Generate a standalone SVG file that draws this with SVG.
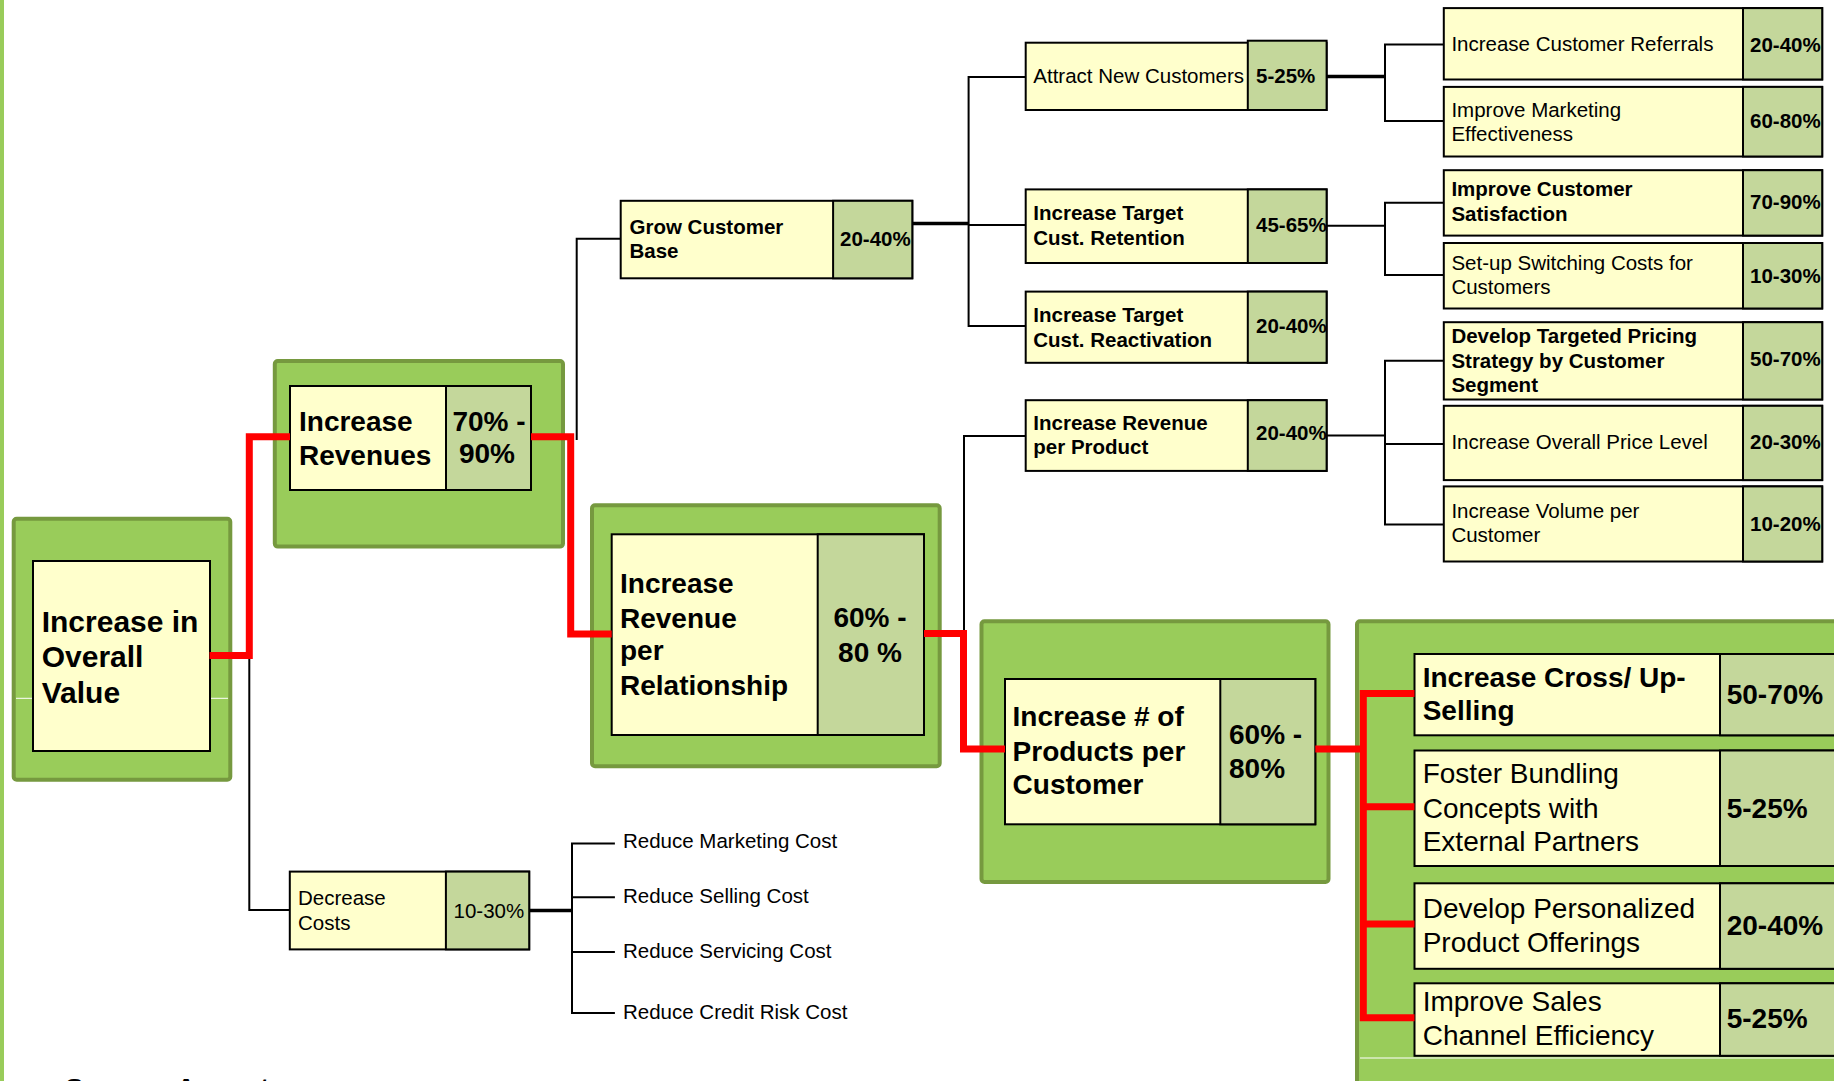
<svg xmlns="http://www.w3.org/2000/svg" width="1834" height="1081" viewBox="0 0 1834 1081">
<style>
.og{fill:#99CC5A;stroke:#76993F;stroke-width:4}
.bx{fill:#FFFFCC;stroke:#000;stroke-width:2}
.pc{fill:#C4D79B;stroke:#000;stroke-width:2}
.red{fill:none;stroke:#FF0000;stroke-width:7}
.ln{fill:none;stroke:#000;stroke-width:2}
.tk{fill:none;stroke:#000;stroke-width:3.5}
.wl{stroke:#FFFFFF;stroke-width:1}
text{font-family:"Liberation Sans",Arial,sans-serif;fill:#000}
.b28{font-size:28px;font-weight:bold}
.r28{font-size:28px}
.b30{font-size:30px;font-weight:bold}
.b20{font-size:20.5px;font-weight:bold}
.r20{font-size:20.5px}
.mid{text-anchor:middle}
</style>
<rect x="0" y="0" width="1834" height="1081" fill="#FFFFFF"/>
<rect x="0" y="0" width="4" height="1081" fill="#99CC5A"/>

<g id="increase-overall-value">
<rect class="og" x="13.7" y="518.7" width="216.6" height="261" rx="3"/>
<line class="wl" x1="16" y1="698.3" x2="33" y2="698.3"/>
<line class="wl" x1="210" y1="698.3" x2="228" y2="698.3"/>
<rect class="bx" x="33" y="561" width="177" height="190"/>
<text class="b30" x="41.7" y="631.7">Increase in</text>
<text class="b30" x="41.7" y="666.7">Overall</text>
<text class="b30" x="41.7" y="703.3">Value</text>
</g>

<g id="increase-revenues">
<rect class="og" x="274.8" y="361" width="288.2" height="185.6" rx="3"/>
<rect class="bx" x="290" y="386" width="241" height="104"/>
<rect class="pc" x="446" y="386" width="85" height="104"/>
<text class="b28" x="299" y="430.5">Increase</text>
<text class="b28" x="299" y="465">Revenues</text>
<text class="b28 mid" x="489" y="431">70% -</text>
<text class="b28 mid" x="487" y="463">90%</text>
</g>

<g id="increase-revenue-per-relationship">
<rect class="og" x="592" y="505.3" width="347.7" height="261" rx="3"/>
<rect class="bx" x="611.7" y="534.3" width="312.3" height="200.7"/>
<rect class="pc" x="817.7" y="534.3" width="106.3" height="200.7"/>
<text class="b28" x="620" y="593.3">Increase</text>
<text class="b28" x="620" y="628.3">Revenue</text>
<text class="b28" x="620" y="660">per</text>
<text class="b28" x="620" y="695">Relationship</text>
<text class="b28 mid" x="870" y="627.3">60% -</text>
<text class="b28 mid" x="870" y="662.3">80 %</text>
</g>

<g id="increase-products-per-customer">
<rect class="og" x="981.5" y="621.3" width="347" height="260.7" rx="3"/>
<rect class="bx" x="1005" y="679" width="310.3" height="145.3"/>
<rect class="pc" x="1220.3" y="679" width="95" height="145.3"/>
<text class="b28" x="1012.6" y="726.3">Increase # of</text>
<text class="b28" x="1012.6" y="760.8">Products per</text>
<text class="b28" x="1012.6" y="794.3">Customer</text>
<text class="b28" x="1229" y="743.5">60% -</text>
<text class="b28" x="1229" y="778">80%</text>
</g>

<g id="products-group">
<rect class="og" x="1357" y="621.3" width="520" height="500" rx="3"/>
<line class="wl" x1="1360" y1="1058" x2="1834" y2="1058"/>
</g>

<g id="cross-up-selling">
<rect class="bx" x="1414.5" y="654" width="440" height="81.3"/>
<rect class="pc" x="1720" y="654" width="134.5" height="81.3"/>
<text class="b28" x="1422.7" y="687.3">Increase Cross/ Up-</text>
<text class="b28" x="1422.7" y="720">Selling</text>
<text class="b28" x="1726.7" y="704">50-70%</text>
</g>

<g id="foster-bundling">
<rect class="bx" x="1414.5" y="750.5" width="440" height="115.5"/>
<rect class="pc" x="1720" y="750.5" width="134.5" height="115.5"/>
<text class="r28" x="1422.7" y="783.2">Foster Bundling</text>
<text class="r28" x="1422.7" y="817.7">Concepts with</text>
<text class="r28" x="1422.7" y="850.5">External Partners</text>
<text class="b28" x="1726.7" y="817.7">5-25%</text>
</g>

<g id="personalized-offerings">
<rect class="bx" x="1414.5" y="883.3" width="440" height="85.5"/>
<rect class="pc" x="1720" y="883.3" width="134.5" height="85.5"/>
<text class="r28" x="1422.7" y="917.8">Develop Personalized</text>
<text class="r28" x="1422.7" y="952.3">Product Offerings</text>
<text class="b28" x="1726.7" y="935">20-40%</text>
</g>

<g id="sales-channel">
<rect class="bx" x="1414.5" y="983.3" width="440" height="72.5"/>
<rect class="pc" x="1720" y="983.3" width="134.5" height="72.5"/>
<text class="r28" x="1422.7" y="1011">Improve Sales</text>
<text class="r28" x="1422.7" y="1045.4">Channel Efficiency</text>
<text class="b28" x="1726.7" y="1028">5-25%</text>
</g>

<g id="grow-customer-base">
<rect class="bx" x="620.7" y="200.8" width="291.6" height="77.5"/>
<rect class="pc" x="833.1" y="200.8" width="79.2" height="77.5"/>
<text class="b20" x="629.5" y="234">Grow Customer</text>
<text class="b20" x="629.5" y="258">Base</text>
<text class="b20" x="840" y="246">20-40%</text>
</g>

<g id="decrease-costs">
<rect class="bx" x="289.8" y="871.6" width="239.4" height="77.8"/>
<rect class="pc" x="445.9" y="871.6" width="83.3" height="77.8"/>
<text class="r20" x="298" y="904.6">Decrease</text>
<text class="r20" x="298" y="929.8">Costs</text>
<text class="r20" x="453.5" y="918">10-30%</text>
</g>

<g id="reduce-costs">
<text class="r20" x="623" y="848">Reduce Marketing Cost</text>
<text class="r20" x="623" y="903.1">Reduce Selling Cost</text>
<text class="r20" x="623" y="958.3">Reduce Servicing Cost</text>
<text class="r20" x="623" y="1019.4">Reduce Credit Risk Cost</text>
</g>

<g id="attract-new-customers">
<rect class="bx" x="1025.7" y="42.7" width="300.9" height="67.3"/>
<rect class="pc" x="1247.8" y="40.7" width="78.8" height="69.3"/>
<text class="r20" x="1033.3" y="83.3">Attract New Customers</text>
<text class="b20" x="1256" y="83.3">5-25%</text>
</g>

<g id="target-retention">
<rect class="bx" x="1025.7" y="189.4" width="300.9" height="73.6"/>
<rect class="pc" x="1247.8" y="189.4" width="78.8" height="73.6"/>
<text class="b20" x="1033.3" y="220">Increase Target</text>
<text class="b20" x="1033.3" y="245.3">Cust. Retention</text>
<text class="b20" x="1256" y="232">45-65%</text>
</g>

<g id="target-reactivation">
<rect class="bx" x="1025.7" y="291.6" width="300.9" height="71.2"/>
<rect class="pc" x="1247.8" y="291.6" width="78.8" height="71.2"/>
<text class="b20" x="1033.3" y="322.3">Increase Target</text>
<text class="b20" x="1033.3" y="346.7">Cust. Reactivation</text>
<text class="b20" x="1256" y="333.3">20-40%</text>
</g>

<g id="revenue-per-product">
<rect class="bx" x="1025.7" y="400.2" width="300.9" height="70.7"/>
<rect class="pc" x="1247.8" y="400.2" width="78.8" height="70.7"/>
<text class="b20" x="1033.3" y="429.8">Increase Revenue</text>
<text class="b20" x="1033.3" y="454.3">per Product</text>
<text class="b20" x="1256" y="440.2">20-40%</text>
</g>

<g id="customer-referrals">
<rect class="bx" x="1443.8" y="8.1" width="378.4" height="71.4"/>
<rect class="pc" x="1743" y="8.1" width="79.2" height="71.4"/>
<text class="r20" x="1451.4" y="50.7">Increase Customer Referrals</text>
<text class="b20" x="1750" y="51.5">20-40%</text>
</g>

<g id="marketing-effectiveness">
<rect class="bx" x="1443.8" y="86.9" width="378.4" height="69.6"/>
<rect class="pc" x="1743" y="86.9" width="79.2" height="69.6"/>
<text class="r20" x="1451.4" y="116.5">Improve Marketing</text>
<text class="r20" x="1451.4" y="140.6">Effectiveness</text>
<text class="b20" x="1750" y="127.6">60-80%</text>
</g>

<g id="customer-satisfaction">
<rect class="bx" x="1443.8" y="170.2" width="378.4" height="65.4"/>
<rect class="pc" x="1743" y="170.2" width="79.2" height="65.4"/>
<text class="b20" x="1451.4" y="196">Improve Customer</text>
<text class="b20" x="1451.4" y="220.8">Satisfaction</text>
<text class="b20" x="1750" y="209">70-90%</text>
</g>

<g id="switching-costs">
<rect class="bx" x="1443.8" y="243" width="378.4" height="65.5"/>
<rect class="pc" x="1743" y="243" width="79.2" height="65.5"/>
<text class="r20" x="1451.4" y="270">Set-up Switching Costs for</text>
<text class="r20" x="1451.4" y="294">Customers</text>
<text class="b20" x="1750" y="283">10-30%</text>
</g>

<g id="targeted-pricing">
<rect class="bx" x="1443.8" y="322.2" width="378.4" height="77.3"/>
<rect class="pc" x="1743" y="322.2" width="79.2" height="77.3"/>
<text class="b20" x="1451.4" y="343.3">Develop Targeted Pricing</text>
<text class="b20" x="1451.4" y="368">Strategy by Customer</text>
<text class="b20" x="1451.4" y="392">Segment</text>
<text class="b20" x="1750" y="366">50-70%</text>
</g>

<g id="overall-price-level">
<rect class="bx" x="1443.8" y="405.8" width="378.4" height="74.3"/>
<rect class="pc" x="1743" y="405.8" width="79.2" height="74.3"/>
<text class="r20" x="1451.4" y="449.4">Increase Overall Price Level</text>
<text class="b20" x="1750" y="449.4">20-30%</text>
</g>

<g id="volume-per-customer">
<rect class="bx" x="1443.8" y="486.4" width="378.4" height="75.1"/>
<rect class="pc" x="1743" y="486.4" width="79.2" height="75.1"/>
<text class="r20" x="1451.4" y="518">Increase Volume per</text>
<text class="r20" x="1451.4" y="542">Customer</text>
<text class="b20" x="1750" y="530.8">10-20%</text>
</g>

<g id="connectors">
<path class="ln" d="M620.7 238.7 H576.7 V440" stroke-width="1.5"/>
<path class="ln" d="M249.3 655.6 V910 H289.8"/>
<path class="tk" d="M912.3 223.5 H968.6"/>
<path class="ln" d="M1025.7 77 H968.6 V326 H1025.7 M968.6 225 H1025.7"/>
<path class="tk" d="M1326.6 76.5 H1385"/>
<path class="ln" d="M1443.8 44.4 H1385 V121 H1443.8"/>
<path class="ln" d="M1326.6 225.8 H1385" stroke-width="2.5"/>
<path class="ln" d="M1443.8 202.7 H1385 V275 H1443.8"/>
<path class="ln" d="M1025.7 436 H964 V633"/>
<path class="ln" d="M1326.6 435.4 H1385" stroke-width="2.5"/>
<path class="ln" d="M1443.8 360.7 H1385 V524.5 H1443.8 M1385 443.9 H1443.8"/>
<path class="tk" d="M529.2 910.5 H572"/>
<path class="ln" d="M614.9 843.5 H572 V1013 H614.9 M572 897.2 H614.9 M572 952 H614.9"/>
<path class="red" d="M209.5 655.6 H249.3 V436.7 H290"/>
<path class="red" d="M531 436.7 H570.7 V634 H611.7"/>
<path class="red" d="M924 633.5 H963.5 V749 H1005"/>
<path class="red" d="M1315.3 749 H1363.3"/>
<path class="red" d="M1414.5 693.5 H1363.3 V1017.8 H1414.5 M1363.3 806.7 H1414.5 M1363.3 924 H1414.5"/>
</g>

<text class="b28" x="65" y="1098">Source: Accenture</text>
</svg>
